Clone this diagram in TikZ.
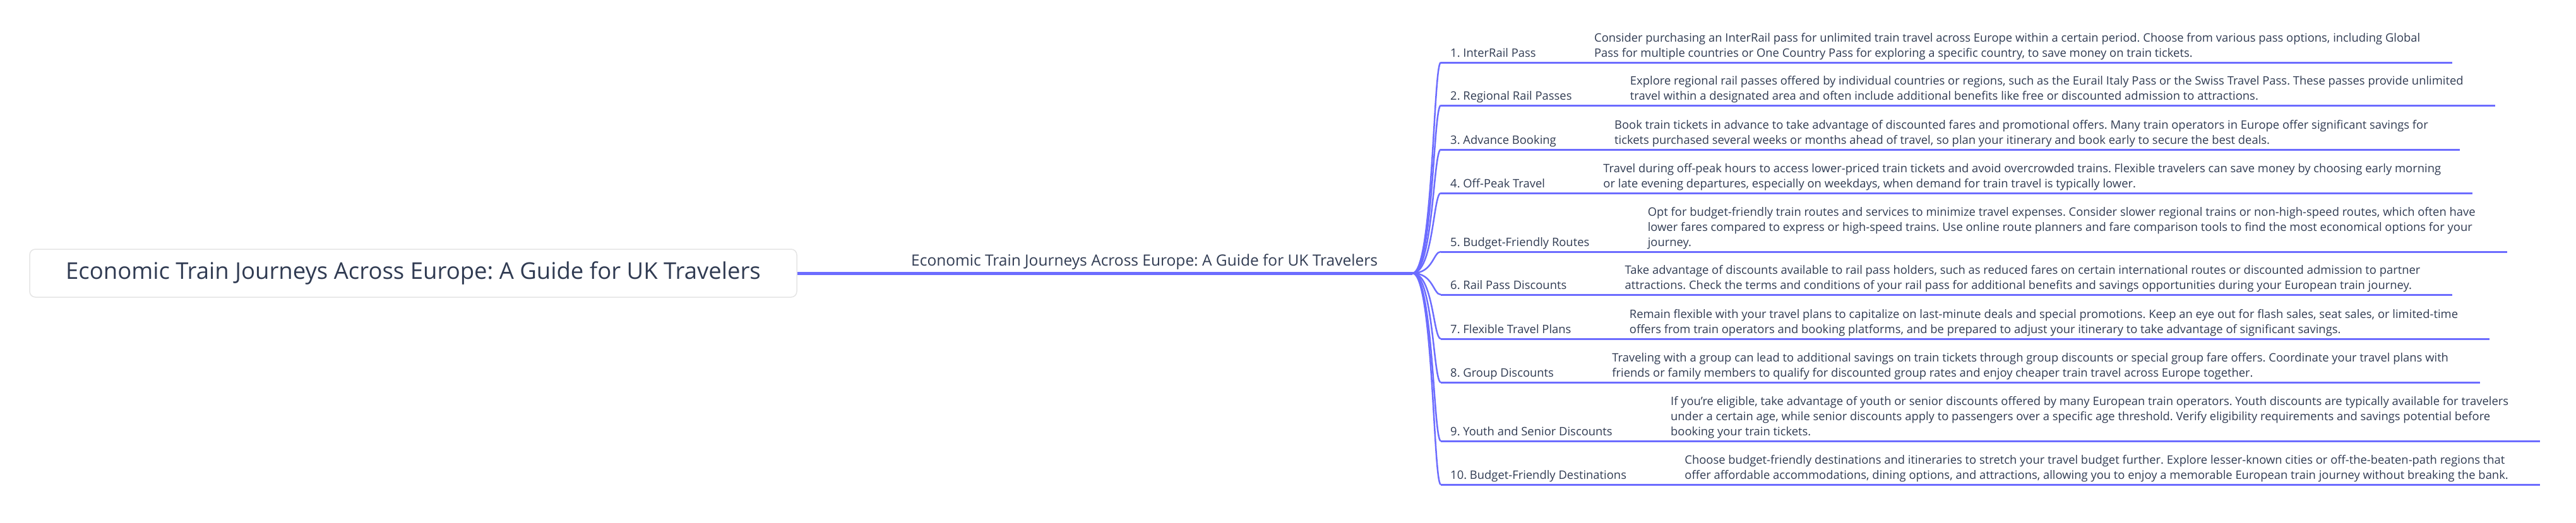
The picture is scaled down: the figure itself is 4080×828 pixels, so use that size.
\documentclass[tikz,border=0pt]{standalone}
\usepackage{fontspec}
\setmainfont{Open Sans}
\usetikzlibrary{positioning, calc}
\definecolor{mapblue}{HTML}{6C6CFF}
\definecolor{mapink}{HTML}{303B52}
\newcommand{\tipblock}[1]{\begin{tabular}[b]{@{}l@{}}#1\end{tabular}}
\frenchspacing

\begin{document}
\begin{tikzpicture}[
  x=1pt, y=-1pt,
  node distance=92pt,
  rootbox/.style={rectangle, rounded corners=9pt, draw=black!10, line width=1.5pt,
                  fill=white, minimum width=1215pt, minimum height=76pt,
                  font=\fontsize{36.5}{42}\selectfont, text=mapink},
  topic/.style={inner sep=0pt, font=\fontsize{24.5}{29}\selectfont, text=mapink},
  tiplabel/.style={inner sep=0pt, anchor=base west,
                   font=\fontsize{18.4}{24}\selectfont, text=mapink},
  tipdesc/.style={inner sep=0pt, font=\fontsize{18.4}{24}\selectfont, text=mapink},
  trunk/.style={mapblue, line width=5pt},
  branch/.style={mapblue, line width=2.5pt},
  tipline/.style={mapblue, line width=3pt}
]
  \useasboundingbox (0,0) rectangle (4080,828);

  % root and first level
  \node[rootbox] (root) at (654.5,433)
    {Economic Train Journeys Across Europe: A Guide for UK Travelers};
  \coordinate (hub) at (2237,433);
  \draw[trunk] (root.east) -- (hub);
  \node[topic, anchor=base west] (topic) at (1443,421)
    {Economic Train Journeys Across Europe: A Guide for UK Travelers};

  % tips
  \coordinate (u1) at (2282,99);
  \node[tiplabel] (l1) at (2297,90.5) {1. InterRail Pass};
  \node[tipdesc, base right=of l1] (d1) {\tipblock{Consider purchasing an InterRail pass for unlimited train travel across Europe within a certain period. Choose from various pass options, including Global\\
    Pass for multiple countries or One Country Pass for exploring a specific country, to save money on train tickets.}};

  \coordinate (u2) at (2282,167);
  \node[tiplabel] (l2) at (2297,158.5) {2. Regional Rail Passes};
  \node[tipdesc, base right=of l2] (d2) {\tipblock{Explore regional rail passes offered by individual countries or regions, such as the Eurail Italy Pass or the Swiss Travel Pass. These passes provide unlimited\\
    travel within a designated area and often include additional benefits like free or discounted admission to attractions.}};

  \coordinate (u3) at (2282,237);
  \node[tiplabel] (l3) at (2297,228.5) {3. Advance Booking};
  \node[tipdesc, base right=of l3] (d3) {\tipblock{Book train tickets in advance to take advantage of discounted fares and promotional offers. Many train operators in Europe offer significant savings for\\
    tickets purchased several weeks or months ahead of travel, so plan your itinerary and book early to secure the best deals.}};

  \coordinate (u4) at (2282,306);
  \node[tiplabel] (l4) at (2297,297.5) {4. Off-Peak Travel};
  \node[tipdesc, base right=of l4] (d4) {\tipblock{Travel during off-peak hours to access lower-priced train tickets and avoid overcrowded trains. Flexible travelers can save money by choosing early morning\\
    or late evening departures, especially on weekdays, when demand for train travel is typically lower.}};

  \coordinate (u5) at (2282,399);
  \node[tiplabel] (l5) at (2297,390.5) {5. Budget-Friendly Routes};
  \node[tipdesc, base right=of l5] (d5) {\tipblock{Opt for budget-friendly train routes and services to minimize travel expenses. Consider slower regional trains or non-high-speed routes, which often have\\
    lower fares compared to express or high-speed trains. Use online route planners and fare comparison tools to find the most economical options for your\\
    journey.}};

  \coordinate (u6) at (2282,467);
  \node[tiplabel] (l6) at (2297,458.5) {6. Rail Pass Discounts};
  \node[tipdesc, base right=of l6] (d6) {\tipblock{Take advantage of discounts available to rail pass holders, such as reduced fares on certain international routes or discounted admission to partner\\
    attractions. Check the terms and conditions of your rail pass for additional benefits and savings opportunities during your European train journey.}};

  \coordinate (u7) at (2282,537);
  \node[tiplabel] (l7) at (2297,528.5) {7. Flexible Travel Plans};
  \node[tipdesc, base right=of l7] (d7) {\tipblock{Remain flexible with your travel plans to capitalize on last-minute deals and special promotions. Keep an eye out for flash sales, seat sales, or limited-time\\
    offers from train operators and booking platforms, and be prepared to adjust your itinerary to take advantage of significant savings.}};

  \coordinate (u8) at (2282,606);
  \node[tiplabel] (l8) at (2297,597.5) {8. Group Discounts};
  \node[tipdesc, base right=of l8] (d8) {\tipblock{Traveling with a group can lead to additional savings on train tickets through group discounts or special group fare offers. Coordinate your travel plans with\\
    friends or family members to qualify for discounted group rates and enjoy cheaper train travel across Europe together.}};

  \coordinate (u9) at (2282,699);
  \node[tiplabel] (l9) at (2297,690.5) {9. Youth and Senior Discounts};
  \node[tipdesc, base right=of l9] (d9) {\tipblock{If you're eligible, take advantage of youth or senior discounts offered by many European train operators. Youth discounts are typically available for travelers\\
    under a certain age, while senior discounts apply to passengers over a specific age threshold. Verify eligibility requirements and savings potential before\\
    booking your train tickets.}};

  \coordinate (u10) at (2282,768);
  \node[tiplabel] (l10) at (2297,759.5) {10. Budget-Friendly Destinations};
  \node[tipdesc, base right=of l10] (d10) {\tipblock{Choose budget-friendly destinations and itineraries to stretch your travel budget further. Explore lesser-known cities or off-the-beaten-path regions that\\
    offer affordable accommodations, dining options, and attractions, allowing you to enjoy a memorable European train journey without breaking the bank.}};

  % branches and underlines
  \foreach \i in {1,...,10} {
    \draw[branch] (hub) .. controls +(33,0) and +(-12,0) .. (u\i);
    \draw[tipline] (u\i) -- ($(u\i -| d\i.east)+(50,0)$);
  }
\end{tikzpicture}
\end{document}
